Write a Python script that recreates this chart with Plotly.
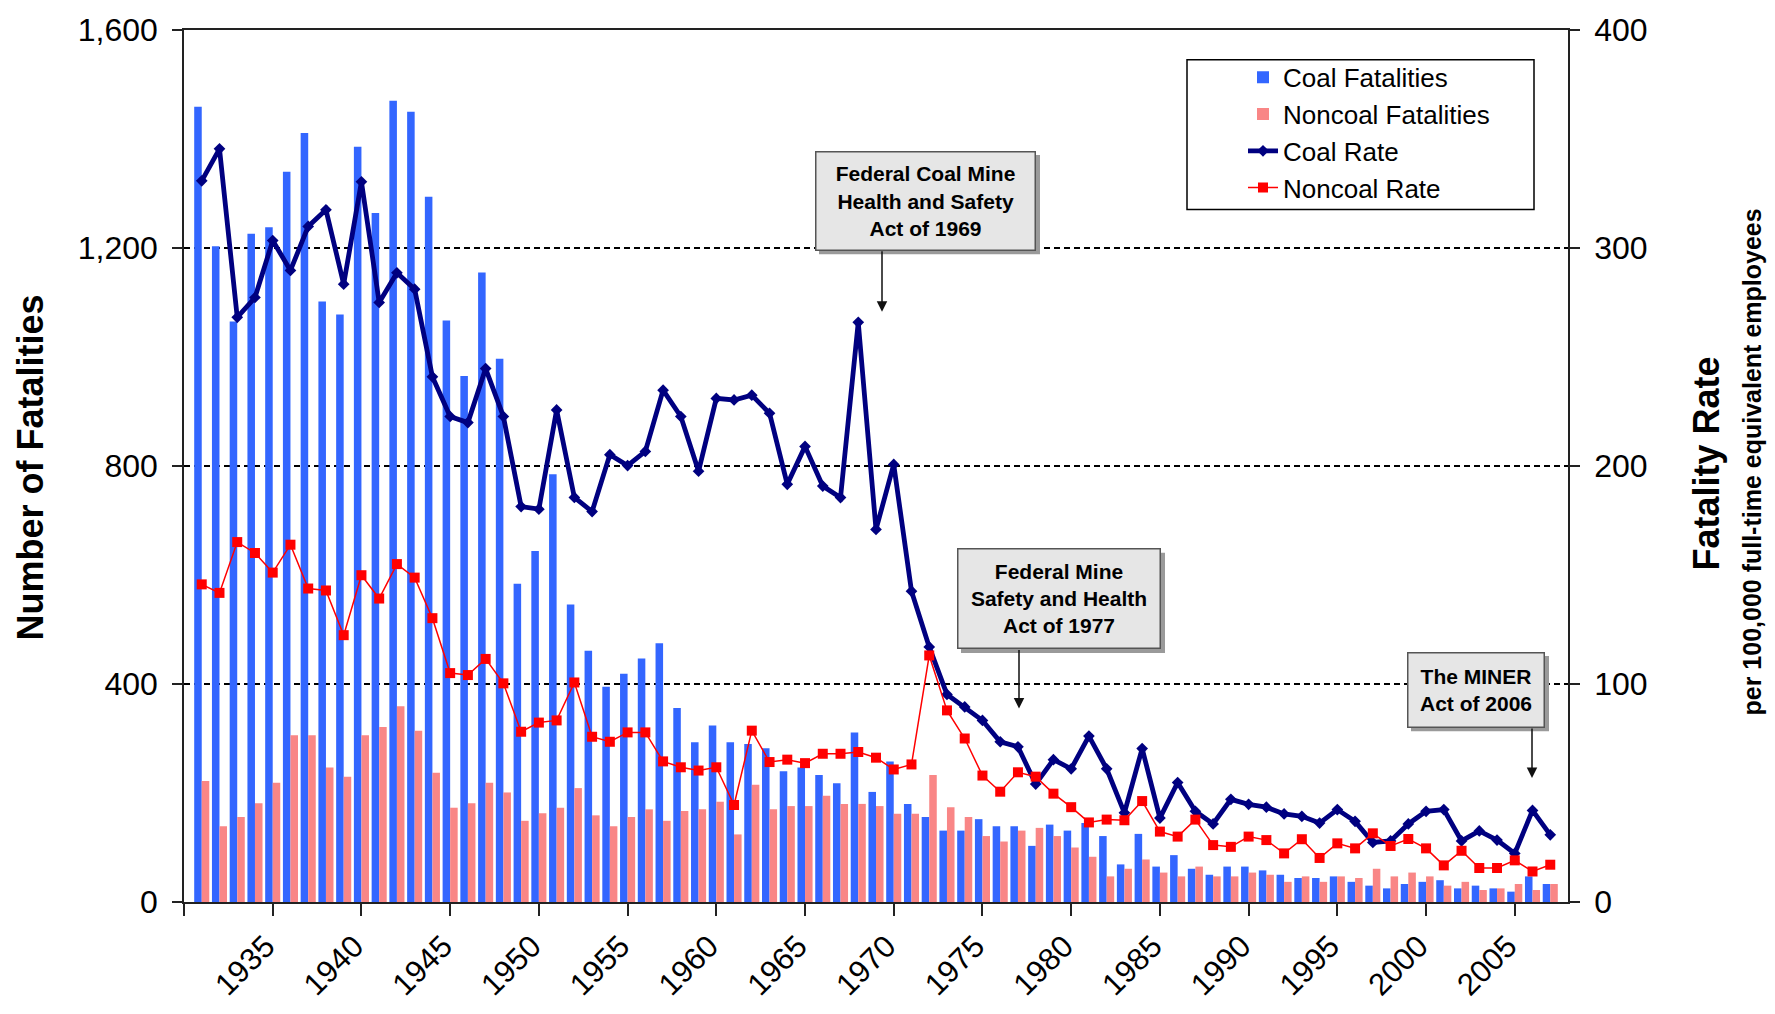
import plotly.graph_objects as go

# ---------------- data ----------------
years = list(range(1931, 2008))

coal_fatalities = [
    1459, 1203, 1065, 1226, 1238, 1340, 1411, 1102, 1078, 1386,
    1264, 1470, 1450, 1294, 1067, 965, 1155, 997, 584, 644,
    785, 546, 461, 395, 419, 447, 475, 356, 293, 324,
    293, 290, 282, 240, 247, 233, 218, 311, 202, 258,
    180, 156, 131, 131, 152, 139, 139, 103, 142, 131,
    145, 121, 69, 125, 65, 86, 61, 50, 65, 65,
    58, 50, 44, 44, 47, 37, 30, 25, 33, 37,
    40, 25, 30, 25, 19, 47, 33]

noncoal_fatalities = [
    222, 139, 156, 181, 219, 306, 306, 247, 230, 306,
    321, 359, 314, 237, 173, 181, 219, 201, 149, 163,
    173, 209, 159, 139, 156, 170, 149, 167, 170, 184,
    124, 215, 170, 176, 176, 195, 180, 180, 176, 162,
    162, 233, 174, 156, 121, 111, 131, 136, 121, 100,
    83, 47, 61, 78, 54, 47, 65, 47, 47, 54,
    50, 37, 47, 37, 47, 44, 61, 47, 54, 47,
    30, 37, 22, 25, 33, 22, 33]

coal_rate = [
    330.8, 345.5, 268.2, 277.3, 303.4, 289.7, 309.9, 317.5, 283.4, 330.4,
    275.0, 288.6, 281.1, 240.9, 222.7, 219.9, 244.7, 222.7, 181.4, 180.2,
    225.7, 185.6, 179.1, 205.2, 200.2, 206.7, 234.8, 222.7, 197.6, 231.0,
    230.3, 232.5, 224.2, 191.6, 209.0, 190.8, 185.5, 265.9, 170.9, 200.7,
    142.6, 117.0, 95.2, 89.5, 83.3, 73.5, 71.2, 54.1, 65.3, 61.1,
    76.1, 61.1, 40.9, 70.4, 38.5, 54.8, 41.6, 35.8, 47.1, 44.8,
    43.5, 40.4, 39.3, 36.2, 42.4, 37.0, 27.3, 28.0, 35.8, 41.6,
    42.4, 28.0, 32.6, 28.4, 22.3, 42.0, 30.8]

noncoal_rate = [
    145.7, 141.8, 165.1, 160.1, 151.1, 163.9, 143.8, 142.9, 122.4, 149.9,
    139.2, 155.0, 148.8, 130.2, 105.0, 104.1, 111.5, 100.3, 78.1, 82.3,
    83.3, 100.7, 75.8, 73.5, 77.8, 77.8, 64.5, 61.8, 60.3, 61.8,
    44.5, 78.6, 64.2, 65.3, 63.7, 68.0, 68.0, 68.8, 66.2, 60.8,
    63.1, 113.1, 87.9, 75.0, 58.0, 50.6, 59.5, 57.5, 49.7, 43.5,
    36.5, 37.8, 37.5, 46.3, 32.3, 30.0, 37.8, 26.1, 25.3, 30.0,
    28.4, 22.3, 28.8, 20.2, 26.9, 24.6, 31.5, 25.7, 28.9, 24.6,
    16.8, 23.5, 15.6, 15.6, 19.1, 14.0, 17.1]

x_tick_vals = list(range(1930, 2006, 5))
x_tick_text = [""] + [str(y) for y in range(1935, 2006, 5)]

series_names = ["Coal Fatalities", "Noncoal Fatalities", "Coal Rate", "Noncoal Rate"]

act_labels = [
    "Federal Coal Mine<br>Health and Safety<br>Act of 1969",
    "Federal Mine<br>Safety and Health<br>Act of 1977",
    "The MINER<br>Act of 2006",
]

# ---------------- layout geometry (pixels) ----------------
W, H = 1775, 1014
L, R, T, B = 184, 1568, 27, 906
PW, PH = R - L, B - T
FONT = "Liberation Sans, Arial, sans-serif"


def px(x):
    return (x - L) / PW


def py(y):
    return (B - y) / PH


fig = go.Figure()

fig.add_trace(go.Bar(x=years, y=coal_fatalities, name=series_names[0],
                     marker=dict(color="#3366FF", line=dict(width=0)), yaxis="y"))
fig.add_trace(go.Bar(x=years, y=noncoal_fatalities, name=series_names[1],
                     marker=dict(color="#F98686", line=dict(width=0)), yaxis="y"))
fig.add_trace(go.Scatter(x=years, y=coal_rate, name=series_names[2], yaxis="y2",
                         mode="lines+markers",
                         line=dict(color="#000080", width=4.8),
                         marker=dict(symbol="diamond", size=9, color="#000080")))
fig.add_trace(go.Scatter(x=years, y=noncoal_rate, name=series_names[3], yaxis="y2",
                         mode="lines+markers",
                         line=dict(color="#FF0000", width=1.5),
                         marker=dict(symbol="square", size=10, color="#FF0000")))

axis_line = dict(showline=True, linecolor="#222", linewidth=1.5)

fig.update_layout(
    width=W, height=H, autosize=False,
    margin=dict(l=L, r=W - R, t=T, b=H - B, pad=0),
    plot_bgcolor="white", paper_bgcolor="white",
    font=dict(family=FONT, color="black"),
    barmode="group", bargap=0.15, bargroupgap=0,
    xaxis=dict(range=[1930, 2008], tickmode="array", tickvals=x_tick_vals,
               ticktext=x_tick_text, tickangle=-45, ticks="outside", ticklen=12,
               tickwidth=1.5, tickcolor="#222", mirror=True, showgrid=False,
               zeroline=False, tickfont=dict(size=31, family=FONT),
               ticklabelshift=-7, **axis_line),
    yaxis=dict(range=[0, 1600], tickvals=[0, 400, 800, 1200, 1600], tickformat=",",
               ticks="outside", ticklen=10, tickwidth=1.5, tickcolor="#222",
               showgrid=True, gridcolor="black", gridwidth=1.5, griddash="6px,4px",
               zeroline=False, tickfont=dict(size=32, family=FONT),
               ticklabelstandoff=8, **axis_line),
    yaxis2=dict(range=[0, 400], tickvals=[0, 100, 200, 300, 400], overlaying="y",
                side="right", ticks="outside", ticklen=10, tickwidth=1.5,
                tickcolor="#222", showgrid=False, zeroline=False,
                tickfont=dict(size=32, family=FONT), ticklabelstandoff=8,
                **axis_line),
    legend=dict(x=px(1243), y=py(51), xanchor="left", yanchor="top",
                bgcolor="rgba(0,0,0,0)", borderwidth=0, traceorder="normal",
                font=dict(size=26, family=FONT), tracegroupgap=0),
)

shapes = []
annotations = []

# legend frame
shapes.append(dict(type="rect", xref="paper", yref="paper",
                   x0=px(1187), x1=px(1534), y0=py(208), y1=py(57),
                   line=dict(color="black", width=1.5), fillcolor="white",
                   layer="below"))

# axis titles
annotations.append(dict(text="<b>Number of Fatalities</b>", xref="paper", yref="paper",
                        x=px(30), y=py(468), textangle=-90, showarrow=False,
                        font=dict(size=36, family=FONT), xanchor="center", yanchor="middle"))
annotations.append(dict(text="<b>Fatality Rate</b>", xref="paper", yref="paper",
                        x=px(1707), y=py(464), textangle=-90, showarrow=False,
                        font=dict(size=36, family=FONT), xanchor="center", yanchor="middle"))
annotations.append(dict(text="<b>per 100,000 full-time equivalent employees</b>",
                        xref="paper", yref="paper", x=px(1752), y=py(463),
                        textangle=-90, showarrow=False,
                        font=dict(size=25, family=FONT), xanchor="center", yanchor="middle"))

# act boxes: (x0, y0, x1, y1) pixels, arrow x, arrow head y
boxes = [
    ((815, 149, 1036, 249), 882, 311),
    ((957, 550, 1161, 651), 1019, 711),
    ((1407, 654, 1545, 730), 1532, 781),
]
for (bx, label) in zip(boxes, act_labels):
    (x0, y0, x1, y1), ax_, ay_ = bx
    # shadow
    shapes.append(dict(type="rect", xref="paper", yref="paper",
                       x0=px(x0 + 4), x1=px(x1 + 4), y0=py(y1 + 4), y1=py(y0 + 4),
                       line=dict(width=0), fillcolor="#9A9A9A", layer="above"))
    annotations.append(dict(text="<b>" + label.replace("<br>", "</b><br><b>") + "</b>",
                            xref="paper", yref="paper",
                            x=px((x0 + x1) / 2), y=py((y0 + y1) / 2),
                            xanchor="center", yanchor="middle", showarrow=False,
                            width=x1 - x0 - 3, height=y1 - y0 - 3,
                            bgcolor="#E6E6E6", bordercolor="#555", borderwidth=1.5,
                            borderpad=0, font=dict(size=21, family=FONT)))
    annotations.append(dict(text="", xref="paper", yref="paper",
                            x=px(ax_), y=py(ay_), ax=0, ay=-(ay_ - y1),
                            showarrow=True, arrowhead=2, arrowsize=1.4,
                            arrowwidth=1.5, arrowcolor="#111"))

fig.update_layout(shapes=shapes, annotations=annotations)

fig.write_html("out.html", config={"displayModeBar": False},
               post_script="document.body.style.margin='0';document.body.style.overflow='hidden';")
